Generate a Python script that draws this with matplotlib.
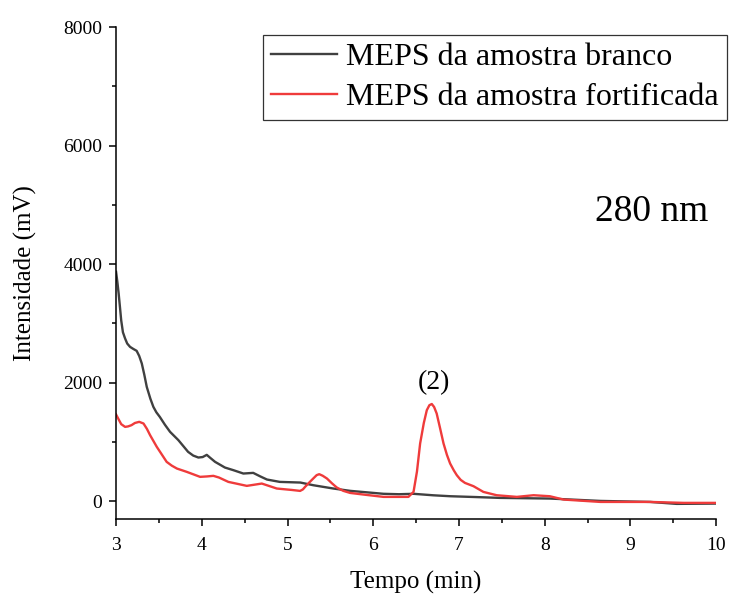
import matplotlib
matplotlib.use('Agg')
import matplotlib.pyplot as plt

plt.rcParams['font.family'] = ['Liberation Serif', 'DejaVu Serif']

# MEPS da amostra branco
t_branco = [3.0, 3.015, 3.03, 3.045, 3.06, 3.08, 3.105, 3.13, 3.163, 3.20,
            3.24, 3.27, 3.30, 3.33, 3.358, 3.40, 3.435, 3.47, 3.51, 3.57,
            3.63, 3.727, 3.84, 3.90, 3.96, 4.01, 4.058, 4.10, 4.155, 4.27,
            4.37, 4.485, 4.60, 4.68, 4.76, 4.91, 5.15, 5.30, 5.535, 5.73,
            6.12, 6.30, 6.47, 6.70, 6.90, 7.20, 7.48, 8.06, 8.65, 9.23,
            9.54, 10.0]
i_branco = [3870, 3700, 3505, 3280, 3050, 2850, 2746, 2660, 2604, 2570,
            2537, 2450, 2324, 2130, 1929, 1730, 1592, 1500, 1423, 1290,
            1170, 1030, 833, 770, 737, 745, 782, 730, 664, 568,
            523, 467, 478, 420, 366, 326, 315, 270, 214, 175,
            125, 118, 125, 100, 84, 70, 56, 45, 5, -12,
            -45, -40]

# MEPS da amostra fortificada
t_fort = [3.0, 3.03, 3.06, 3.105, 3.14, 3.18, 3.22, 3.27, 3.32, 3.36,
          3.397, 3.475, 3.59, 3.65, 3.71, 3.825, 3.98, 4.06, 4.135, 4.20,
          4.31, 4.525, 4.62, 4.70, 4.875, 5.05, 5.147, 5.18, 5.205, 5.25,
          5.30, 5.34, 5.37, 5.41, 5.46, 5.52, 5.575, 5.65, 5.73, 5.90,
          6.12, 6.41, 6.47, 6.51, 6.547, 6.59, 6.625, 6.655, 6.683, 6.71,
          6.74, 6.78, 6.82, 6.86, 6.897, 6.94, 6.975, 7.02, 7.07, 7.17,
          7.285, 7.44, 7.675, 7.87, 8.06, 8.22, 8.65, 9.23, 9.62, 10.0]
i_fort = [1463, 1380, 1300, 1254, 1262, 1283, 1320, 1339, 1311, 1220,
          1114, 917, 664, 600, 551, 495, 411, 418, 428, 400,
          326, 259, 280, 298, 214, 190, 174, 200, 242, 310,
          383, 440, 456, 430, 383, 300, 231, 175, 140, 110,
          73, 73, 157, 500, 974, 1320, 1536, 1620, 1640, 1590,
          1480, 1230, 974, 780, 636, 520, 439, 360, 309, 253,
          157, 101, 73, 101, 84, 28, -12, -12, -28, -28]

fig = plt.figure(figsize=(7.3, 6), dpi=100)
ax = fig.add_axes([0.159, 0.135, 0.822, 0.82])

ax.plot(t_branco, i_branco, color='#404040', lw=1.7, label='MEPS da amostra branco')
ax.plot(t_fort, i_fort, color='#ef3b3b', lw=1.7, label='MEPS da amostra fortificada')

ax.set_xlim(3, 10)
ax.set_ylim(-300, 8000)
ax.set_xticks(range(3, 11))
ax.set_yticks([0, 2000, 4000, 6000, 8000])
ax.set_xticks([3.5 + k for k in range(7)], minor=True)
ax.set_yticks([1000, 3000, 5000, 7000], minor=True)

for s in ['top', 'right']:
    ax.spines[s].set_visible(False)
for s in ['left', 'bottom']:
    ax.spines[s].set_linewidth(1.1)
ax.tick_params(which='major', direction='out', length=5, width=1.1, labelsize=14, pad=5)
ax.tick_params(axis='x', which='major', pad=8)
ax.tick_params(which='minor', direction='out', length=3, width=1.1)

ax.set_xlabel('Tempo (min)', fontsize=18, labelpad=12)
ax.set_ylabel('Intensidade (mV)', fontsize=18, labelpad=19)

ax.text(9.25, 4880, '280 nm', fontsize=27, ha='center', va='center')
ax.text(6.71, 2000, '(2)', fontsize=20, ha='center', va='center')

leg = ax.legend(loc='upper right', bbox_to_anchor=(0.996, 0.942),
                bbox_transform=fig.transFigure, borderaxespad=0,
                fontsize=23, handlelength=2.05, handletextpad=0.3,
                borderpad=0.25, labelspacing=0.34, fancybox=False,
                framealpha=1)
leg.get_frame().set_edgecolor('#333333')
leg.get_frame().set_linewidth(0.9)

fig.savefig('out.png', dpi=100)
